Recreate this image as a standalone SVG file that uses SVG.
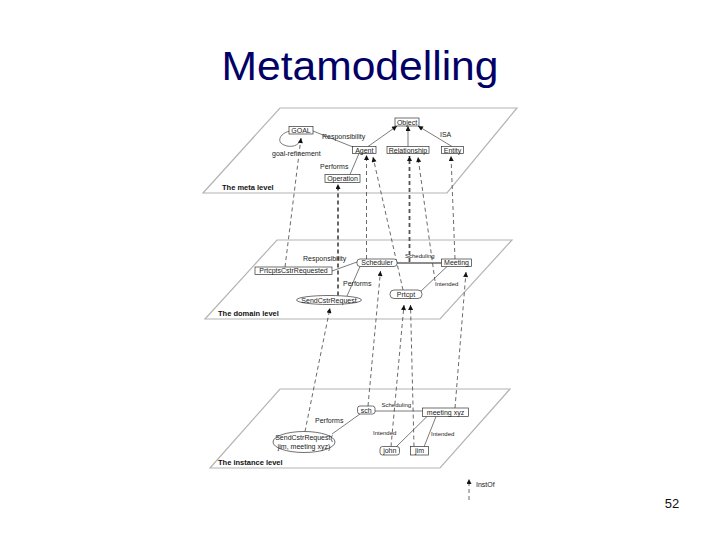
<svg xmlns="http://www.w3.org/2000/svg" width="720" height="540" viewBox="0 0 720 540">
<defs>
<marker id="ah" viewBox="0 0 10 10" refX="10" refY="5" markerWidth="6" markerHeight="5" orient="auto" markerUnits="userSpaceOnUse"><path d="M0,0 L10,5 L0,10 z" fill="#111"/></marker>
<style>
.plane{fill:none;stroke:#b4b4b4;stroke-width:1.2}
.box{fill:#fff;stroke:#333;stroke-width:0.7}
.t{font-family:"Liberation Sans",Arial,sans-serif;font-size:7px;fill:#222}
.c{text-anchor:middle}
.s{font-size:6px}
.lvl{font-family:"Liberation Sans",Arial,sans-serif;font-size:7.5px;font-weight:bold;fill:#111}
.ln{stroke:#444;stroke-width:0.7;fill:none}
.io{stroke:#444;stroke-width:0.8;stroke-dasharray:4 3;fill:none;marker-end:url(#ah)}
.iot{stroke:#555;stroke-width:1.8;stroke-dasharray:4 3;fill:none;marker-end:url(#ah)}
.ar{marker-end:url(#ah)}
</style>
</defs>
<rect width="720" height="540" fill="#fff"/>
<text x="360" y="80" text-anchor="middle" font-family="'Liberation Sans',Arial,sans-serif" font-size="40" fill="#000066" textLength="277" lengthAdjust="spacingAndGlyphs">Metamodelling</text>

<g id="planes">
<path class="plane" d="M280,108 L517,108 L447,193 L203,193 Z"/>
<path class="plane" d="M277,240 L512,240 L440,319 L205,319 Z"/>
<path class="plane" d="M280,389 L510,389 L440,468 L210,468 Z"/>
<text class="lvl" x="222" y="189.5">The meta level</text>
<text class="lvl" x="218" y="315.5">The domain level</text>
<text class="lvl" x="218" y="464.5">The instance level</text>
</g>

<g id="connectors">
<path class="ln" d="M290,131 C280,133 276,142 284,145 C291,148 299,146 301,139"/>
<line class="ln" x1="313" y1="131" x2="353" y2="147"/>
<line class="ln ar" x1="368" y1="146.5" x2="397" y2="126"/>
<line class="ln ar" x1="408" y1="146.5" x2="408" y2="126"/>
<line class="ln ar" x1="452" y1="146.5" x2="418" y2="126"/>
<line class="ln" x1="359" y1="153.5" x2="350" y2="174.5"/>
<line class="ln" x1="332" y1="271" x2="357" y2="262"/>
<line x1="397" y1="263" x2="441.5" y2="263" stroke="#666" stroke-width="1.6"/>
<line class="ln" x1="360" y1="266.5" x2="347" y2="296"/>
<line class="ln" x1="447" y1="266.5" x2="420" y2="292"/>
<line class="ln" x1="375" y1="411" x2="422.5" y2="411"/>
<line class="ln" x1="360" y1="414" x2="332" y2="434"/>
<line class="ln" x1="427" y1="416.5" x2="396" y2="447"/>
<line class="ln" x1="436" y1="416.5" x2="424" y2="447"/>
<line class="io" x1="285" y1="267" x2="301" y2="138"/>
<line class="iot" x1="338" y1="295.5" x2="338" y2="184"/>
<line class="io" x1="366.5" y1="259" x2="366.5" y2="155"/>
<line class="io" x1="403" y1="290" x2="373" y2="157"/>
<line class="iot" x1="409.5" y1="262" x2="409.5" y2="156"/>
<line class="io" x1="435" y1="281" x2="418" y2="157"/>
<line class="io" x1="455" y1="259" x2="451" y2="156"/>
<line class="io" x1="305" y1="431.5" x2="330" y2="308"/>
<line class="io" x1="368" y1="406" x2="380.5" y2="271"/>
<line class="io" x1="391" y1="446.5" x2="404" y2="305"/>
<line class="io" x1="414" y1="446.5" x2="410.5" y2="305"/>
<line class="io" x1="455" y1="408" x2="466" y2="272"/>
</g>

<g id="n-goal"><rect class="box" x="289" y="126.5" width="24" height="7.5"/><text class="t c" x="301" y="132.8">GOAL</text></g>
<g id="n-object"><rect class="box" x="395" y="118" width="24" height="8"/><text class="t c" x="407" y="124.5">Object</text></g>
<g id="n-agent"><rect class="box" x="352.5" y="146.5" width="23.5" height="7"/><text class="t c" x="364.3" y="152.5">Agent</text></g>
<g id="n-relationship"><rect class="box" x="387" y="146.5" width="42" height="7"/><text class="t c" x="408" y="152.5">Relationship</text></g>
<g id="n-entity"><rect class="box" x="441.5" y="146.5" width="22" height="7"/><text class="t c" x="452.5" y="152.5">Entity</text></g>
<g id="n-operation"><rect class="box" x="325" y="174.5" width="35" height="8"/><text class="t c" x="342.5" y="181">Operation</text></g>
<g id="meta-labels">
<text class="t" x="322" y="139">Responsibility</text>
<text class="t" x="440" y="137">ISA</text>
<text class="t" x="272" y="155.5">goal-refinement</text>
<text class="t" x="320" y="169">Performs</text>
</g>

<g id="n-prtcptscstr"><rect class="box" x="255" y="267" width="77" height="7.5"/><text class="t c" x="293.5" y="273">PrtcptsCstrRequested</text></g>
<g id="n-scheduler"><rect class="box" x="357" y="259" width="40" height="7.5" rx="3"/><text class="t c" x="377" y="265">Scheduler</text></g>
<g id="n-meeting"><rect class="box" x="441.5" y="259" width="30" height="7.5"/><text class="t c" x="456.5" y="265">Meeting</text></g>
<g id="n-prtcpt"><rect class="box" x="390" y="290" width="32" height="8.5" rx="4"/><text class="t c" x="406" y="296.5">Prtcpt</text></g>
<g id="n-sendcstr"><ellipse class="box" cx="329" cy="300" rx="32.5" ry="4.5"/><text class="t c" x="329" y="302.5">SendCstrRequest</text></g>
<g id="domain-labels">
<text class="t" x="303" y="260.5">Responsibility</text>
<text class="t" x="343" y="285.5">Performs</text>
<text class="t s" x="405" y="257.5">Scheduling</text>
<text class="t s" x="435" y="286">Intended</text>
</g>

<g id="n-sch"><rect class="box" x="357.5" y="406" width="17.5" height="8" rx="2.5"/><text class="t c" x="366.3" y="412.5">sch</text></g>
<g id="n-meetingxyz"><rect class="box" x="422.5" y="408" width="46" height="8.5"/><text class="t c" x="445.5" y="414.8">meeting xyz</text></g>
<g id="n-sendcstr-inst"><ellipse class="box" cx="304" cy="442" rx="31" ry="10.5"/><text class="t c" x="304" y="439.5">SendCstrRequest(</text><text class="t c" x="304" y="449">jim, meeting xyz)</text></g>
<g id="n-john"><rect class="box" x="380" y="446.5" width="19.5" height="8.5" rx="2.5"/><text class="t c" x="389.8" y="453">john</text></g>
<g id="n-jim"><rect class="box" x="410.5" y="446.5" width="18" height="8.5"/><text class="t c" x="419.5" y="453">jim</text></g>
<g id="instance-labels">
<text class="t s" x="381.5" y="407">Scheduling</text>
<text class="t" x="315" y="422.5">Performs</text>
<text class="t s" x="373" y="434.5">Intended</text>
<text class="t s" x="431" y="435.5">Intended</text>
</g>

<g id="legend">
<line class="io" x1="469" y1="500" x2="469" y2="479"/>
<text class="t" x="476" y="487">InstOf</text>
</g>
<text x="672" y="508" text-anchor="middle" font-family="'Liberation Sans',Arial,sans-serif" font-size="13" fill="#111">52</text>
</svg>
